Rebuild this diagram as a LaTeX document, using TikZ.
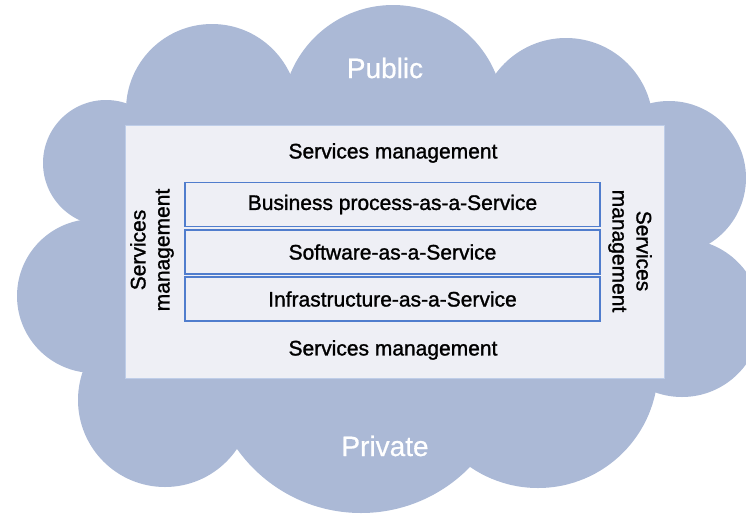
\documentclass[tikz,border=0pt]{standalone}
\usepackage{fontspec}
\setmainfont{Liberation Sans}
\newfontfamily\heavyfont{Liberation Sans}[FakeBold=1.3]
\newfontfamily\mediumfont{Liberation Sans}[FakeBold=0.6]
\definecolor{cloudblue}{RGB}{171,185,214}
\definecolor{panelfill}{RGB}{238,239,245}
\definecolor{panelline}{RGB}{190,205,232}
\definecolor{boxblue}{RGB}{80,125,205}
\tikzset{
  cloudpart/.style={fill=cloudblue, draw=none},
  panelbox/.style={draw=panelline, line width=1pt, fill=panelfill, minimum width=539pt, minimum height=253pt, inner sep=0pt},
  layerbox/.style={draw=boxblue, line width=1.2pt, fill=panelfill, minimum width=415pt, minimum height=44pt, inner sep=0pt, font=\heavyfont\fontsize{21}{24}\selectfont},
  mgmt/.style={font=\heavyfont\fontsize{21}{24}\selectfont, inner sep=0pt, align=center},
  cloudlabel/.style={font=\mediumfont\fontsize{28}{32}\selectfont, text=white, inner sep=0pt}
}
\begin{document}
\begin{tikzpicture}[x=1pt,y=-1pt]
\useasboundingbox (0,0) rectangle (746,514);
\clip (0,0) rectangle (746,514);
\fill[cloudpart] (212,110) -- (393,116) -- (566,125) -- (669,178) -- (682,318) -- (538,368) -- (361,361) -- (165,400) -- (94,296) -- (106,163) -- cycle;
\foreach \cx/\cy/\r in {212/110/86, 393/116/111, 566/125/87, 669/178/77, 682/318/79, 538/368/120, 361/361/152, 165/400/87, 94/296/77, 106/163/63}
  \fill[cloudpart] (\cx,\cy) circle[radius=\r];
\node[panelbox] (panel) at (394.5,251.5) {};
\node[layerbox] (bpaas) at (392.5,204.5) {Business process-as-a-Service};
\node[layerbox] (saas) at (392.5,252) {Software-as-a-Service};
\node[layerbox] (iaas) at (392.5,299) {Infrastructure-as-a-Service};
\node[mgmt] (mtop) at (393,153) {Services management};
\node[mgmt] (mbot) at (393,350) {Services management};
\node[mgmt, rotate=90] (mleft) at (152,250) {Services\\management};
\node[mgmt, rotate=-90] (mright) at (630,251) {Services\\management};
\node[cloudlabel] (public) at (385,68) {Public};
\node[cloudlabel] (private) at (385,446) {Private};
\end{tikzpicture}
\end{document}
